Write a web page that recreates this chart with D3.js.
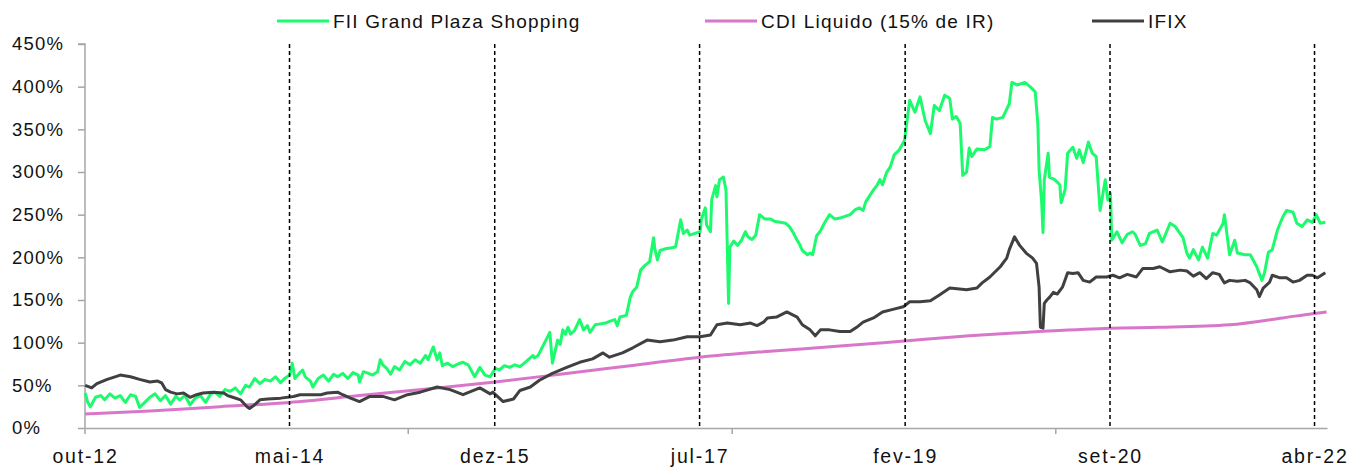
<!DOCTYPE html>
<html>
<head>
<meta charset="utf-8">
<script src="https://cdn.jsdelivr.net/npm/d3@7"></script>
<style>
  body { margin: 0; background: #fff; }
  svg { display: block; font-family: "Liberation Sans", Arial, sans-serif; }
</style>
</head>
<body>
<svg id="chart" width="1352" height="467"></svg>
<script>
// series names, as in the legend
var seriesNames = ["FII Grand Plaza Shopping", "CDI Liquido (15% de IR)", "IFIX"];

// dates are decimal years, values are accumulated return in %
var fiiData = [
  [2012.75,41],[2012.77,30],[2012.79,25],[2012.83,36],[2012.87,38],[2012.90,33],[2012.94,40],[2012.98,35],
  [2013.02,38],[2013.06,30],[2013.10,39],[2013.14,37],[2013.17,24],[2013.21,30],[2013.25,36],[2013.29,40],
  [2013.33,32],[2013.37,38],[2013.41,28],[2013.45,37],[2013.48,33],[2013.52,38],[2013.56,27],[2013.60,35],
  [2013.64,38],[2013.68,30],[2013.72,40],[2013.75,42],[2013.79,37],[2013.83,45],[2013.87,43],[2013.91,47],
  [2013.95,40],[2013.99,50],[2014.02,48],[2014.06,58],[2014.10,52],[2014.14,57],[2014.18,55],[2014.22,60],
  [2014.26,53],[2014.29,58],[2014.33,62],[2014.35,76],[2014.37,58],[2014.41,65],[2014.43,68],[2014.45,60],
  [2014.49,55],[2014.51,48],[2014.55,58],[2014.59,62],[2014.63,55],[2014.67,63],[2014.70,60],[2014.74,64],
  [2014.78,58],[2014.82,65],[2014.86,62],[2014.87,54],[2014.90,66],[2014.94,64],[2014.97,62],[2015.01,66],
  [2015.03,80],[2015.05,74],[2015.08,70],[2015.11,63],[2015.14,72],[2015.18,68],[2015.22,78],[2015.26,74],
  [2015.30,80],[2015.34,76],[2015.38,85],[2015.40,80],[2015.44,95],[2015.47,80],[2015.49,88],[2015.51,73],
  [2015.55,76],[2015.59,72],[2015.63,75],[2015.67,77],[2015.71,74],[2015.76,60],[2015.80,71],[2015.84,62],
  [2015.88,60],[2015.92,70],[2015.95,68],[2015.99,73],[2016.03,71],[2016.07,74],[2016.11,72],[2016.15,77],
  [2016.21,85],[2016.22,82],[2016.25,85],[2016.34,112],[2016.36,76],[2016.40,103],[2016.42,98],[2016.44,115],
  [2016.46,110],[2016.48,118],[2016.50,110],[2016.53,114],[2016.57,127],[2016.60,115],[2016.63,120],[2016.65,112],
  [2016.69,121],[2016.73,122],[2016.77,123],[2016.80,125],[2016.84,127],[2016.86,120],[2016.88,130],[2016.93,132],
  [2016.96,153],[2016.98,160],[2017.01,165],[2017.04,185],[2017.07,190],[2017.11,195],[2017.14,223],[2017.15,210],
  [2017.17,197],[2017.19,208],[2017.23,210],[2017.27,211],[2017.31,212],[2017.35,244],[2017.37,228],[2017.40,232],
  [2017.42,226],[2017.46,228],[2017.50,230],[2017.51,245],[2017.54,258],[2017.55,238],[2017.58,230],[2017.59,268],
  [2017.62,284],[2017.63,271],[2017.65,291],[2017.68,294],[2017.70,279],[2017.72,146],[2017.73,212],[2017.76,219],
  [2017.79,214],[2017.82,220],[2017.85,230],[2017.87,224],[2017.90,221],[2017.93,226],[2017.96,250],[2018.00,245],
  [2018.04,245],[2018.08,242],[2018.12,241],[2018.16,240],[2018.19,236],[2018.22,229],[2018.25,220],[2018.27,215],
  [2018.29,208],[2018.33,203],[2018.35,205],[2018.37,203],[2018.40,225],[2018.43,231],[2018.46,240],[2018.50,250],
  [2018.54,245],[2018.58,246],[2018.62,248],[2018.66,250],[2018.70,256],[2018.73,258],[2018.76,255],[2018.78,265],
  [2018.81,272],[2018.84,279],[2018.87,285],[2018.89,291],[2018.91,285],[2018.94,299],[2018.97,306],[2019.00,320],
  [2019.04,326],[2019.08,337],[2019.12,384],[2019.16,370],[2019.20,388],[2019.24,360],[2019.28,345],[2019.31,378],
  [2019.35,372],[2019.39,390],[2019.43,386],[2019.45,362],[2019.48,365],[2019.51,357],[2019.53,296],[2019.56,300],
  [2019.58,328],[2019.60,318],[2019.64,327],[2019.70,326],[2019.74,330],[2019.76,364],[2019.79,362],[2019.84,364],
  [2019.89,380],[2019.91,405],[2019.95,402],[2020.01,405],[2020.05,400],[2020.09,394],[2020.11,357],[2020.12,302],
  [2020.14,264],[2020.15,229],[2020.16,291],[2020.19,322],[2020.20,294],[2020.24,291],[2020.28,285],[2020.29,264],
  [2020.32,279],[2020.34,322],[2020.38,329],[2020.41,316],[2020.43,326],[2020.46,311],[2020.50,335],[2020.53,322],
  [2020.56,318],[2020.59,255],[2020.63,291],[2020.65,267],[2020.67,275],[2020.68,220],[2020.72,230],[2020.76,217],
  [2020.80,227],[2020.84,230],[2020.86,227],[2020.90,214],[2020.94,216],[2020.97,228],[2021.03,232],[2021.07,218],
  [2021.13,240],[2021.17,236],[2021.23,223],[2021.26,205],[2021.28,199],[2021.31,209],[2021.35,197],[2021.38,212],
  [2021.42,199],[2021.46,228],[2021.49,226],[2021.54,240],[2021.55,250],[2021.59,203],[2021.63,220],[2021.65,205],
  [2021.71,203],[2021.75,203],[2021.80,189],[2021.84,173],[2021.86,182],[2021.89,206],[2021.92,209],[2021.96,232],
  [2022.00,247],[2022.03,255],[2022.08,253],[2022.11,240],[2022.15,236],[2022.19,244],[2022.23,241],[2022.26,250],
  [2022.29,240],[2022.33,241]
];

var cdiData = [
  [2012.75,16.5],[2013.25,20],[2013.79,25],[2014.33,30],[2014.87,38],[2015.41,46],[2015.92,54],[2016.42,63],
  [2016.96,73],[2017.50,83],[2018.04,90],[2018.58,96],[2019.08,102],[2019.58,108],[2020.12,113],[2020.67,117],
  [2021.05,118],[2021.59,121],[2022.00,129],[2022.23,134],[2022.34,136]
];

var ifixData = [
  [2012.75,50],[2012.80,47],[2012.84,52],[2012.92,57],[2012.98,60],[2013.02,62],[2013.10,60],[2013.17,57],
  [2013.25,54],[2013.31,55],[2013.34,53],[2013.37,45],[2013.41,42],[2013.46,40],[2013.51,41],[2013.56,36],
  [2013.61,39],[2013.66,41],[2013.74,42],[2013.82,41],[2013.85,38],[2013.89,36],[2013.95,33],[2014.00,25],
  [2014.02,23],[2014.05,26],[2014.10,33],[2014.16,34],[2014.26,35],[2014.36,37],[2014.41,39],[2014.57,39],
  [2014.62,41],[2014.70,42],[2014.74,39],[2014.80,35],[2014.87,31],[2014.95,37],[2015.05,37],[2015.14,33],
  [2015.24,39],[2015.34,42],[2015.47,48],[2015.57,45],[2015.67,39],[2015.80,47],[2015.88,40],[2015.90,42],
  [2015.98,31],[2016.06,34],[2016.11,44],[2016.19,48],[2016.26,56],[2016.36,64],[2016.47,71],[2016.57,77],
  [2016.67,81],[2016.75,88],[2016.80,83],[2016.90,88],[2016.98,94],[2017.09,103],[2017.19,101],[2017.29,103],
  [2017.40,107],[2017.50,107],[2017.58,109],[2017.63,121],[2017.71,123],[2017.81,121],[2017.89,123],[2017.94,120],
  [2017.99,124],[2018.02,129],[2018.09,130],[2018.17,136],[2018.25,130],[2018.29,121],[2018.35,115],[2018.39,108],
  [2018.43,115],[2018.50,115],[2018.58,113],[2018.66,113],[2018.71,118],[2018.76,124],[2018.84,129],[2018.91,136],
  [2018.99,139],[2019.07,142],[2019.12,148],[2019.20,148],[2019.28,149],[2019.35,156],[2019.43,164],[2019.56,162],
  [2019.64,164],[2019.68,170],[2019.74,177],[2019.82,189],[2019.87,199],[2019.89,209],[2019.93,224],[2019.97,214],
  [2020.02,205],[2020.07,199],[2020.10,193],[2020.12,165],[2020.13,118],[2020.15,117],[2020.16,146],[2020.18,150],
  [2020.20,153],[2020.23,159],[2020.26,157],[2020.30,165],[2020.34,182],[2020.38,181],[2020.42,182],[2020.46,173],
  [2020.51,171],[2020.56,177],[2020.64,177],[2020.69,179],[2020.74,176],[2020.80,180],[2020.87,177],[2020.92,187],
  [2021.00,187],[2021.05,189],[2021.13,183],[2021.21,185],[2021.26,184],[2021.31,178],[2021.36,182],[2021.41,175],
  [2021.46,182],[2021.51,180],[2021.55,170],[2021.59,173],[2021.65,172],[2021.71,173],[2021.75,170],[2021.80,162],
  [2021.82,154],[2021.85,164],[2021.90,171],[2021.92,179],[2021.98,176],[2022.03,176],[2022.08,171],[2022.13,173],
  [2022.19,179],[2022.23,179],[2022.27,176],[2022.33,182]
];

// x labels (also where the dashed markers sit) and the minor ticks
var xLabelDates = ["2012-10-01", "2014-05-01", "2015-12-01", "2017-07-01", "2019-02-01", "2020-09-01", "2022-04-01"];
var xMinorTickDates = ["2015-04-01", "2017-10-01", "2020-04-01"];
var monthNames = ["jan", "fev", "mar", "abr", "mai", "jun", "jul", "ago", "set", "out", "nov", "dez"];
var yTicks = [0, 50, 100, 150, 200, 250, 300, 350, 400, 450];

var colors = ["#1bfb6d", "#d877c9", "#404040"];

function fromDecimalYear(t) {
  var y = Math.floor(t);
  var a = new Date(y, 0, 1), b = new Date(y + 1, 0, 1);
  return new Date(+a + (t - y) * (b - a));
}

var width = 1352, height = 467;
var margin = { top: 44, right: 25, bottom: 39, left: 85 };

var svg = d3.select("#chart");
svg.append("rect").attr("width", width).attr("height", height).attr("fill", "#fff");

var x = d3.scaleTime()
  .domain([new Date(2012, 9, 1), fromDecimalYear(2022.343)])
  .range([margin.left, width - margin.right]);

var y = d3.scaleLinear()
  .domain([0, 450])
  .range([height - margin.bottom, margin.top]);

var parse = d3.timeParse("%Y-%m-%d");

// y axis
var yAxis = svg.append("g")
  .attr("transform", "translate(" + margin.left + ",0)")
  .call(d3.axisLeft(y).tickValues(yTicks).tickSize(7).tickPadding(21).tickFormat(function (d) { return d + "%"; }));
yAxis.select(".domain").attr("stroke", "#a6a6a6").attr("stroke-width", 1.5).attr("d",
  "M-7," + y(450) + "H0V" + y(0));
yAxis.selectAll(".tick line").attr("stroke", "#a6a6a6").attr("stroke-width", 1.5);
yAxis.selectAll("text")
  .attr("font-size", 18.5)
  .attr("letter-spacing", 1.2)
  .attr("text-anchor", "start")
  .attr("x", -73)
  .attr("fill", "#111");

// x axis
var xAxis = svg.append("g")
  .attr("transform", "translate(0," + y(0) + ")")
  .call(d3.axisBottom(x).tickValues(xLabelDates.map(parse)).tickSize(0).tickPadding(21)
    .tickFormat(function (d) { return monthNames[d.getMonth()] + "-" + d3.timeFormat("%y")(d); }));
xAxis.select(".domain").attr("stroke", "#a6a6a6").attr("stroke-width", 1.5);
xAxis.selectAll("text")
  .attr("font-size", 19.5)
  .attr("letter-spacing", 1.8)
  .attr("fill", "#111");

svg.append("g")
  .selectAll("line")
  .data([new Date(2012, 9, 1)].concat(xMinorTickDates.map(parse)))
  .join("line")
  .attr("x1", function (d) { return x(d); })
  .attr("x2", function (d) { return x(d); })
  .attr("y1", y(0))
  .attr("y2", y(0) + 6)
  .attr("stroke", "#a6a6a6")
  .attr("stroke-width", 1.5);

// series
var line = d3.line()
  .x(function (d) { return x(fromDecimalYear(d[0])); })
  .y(function (d) { return y(d[1]); });

var allSeries = [fiiData, cdiData, ifixData];
allSeries.forEach(function (data, i) {
  svg.append("path")
    .datum(data)
    .attr("fill", "none")
    .attr("stroke", colors[i])
    .attr("stroke-width", 3)
    .attr("stroke-linejoin", "round")
    .attr("d", i === 1 ? line.curve(d3.curveMonotoneX)(data) : line.curve(d3.curveLinear)(data));
});

// dashed markers
svg.append("g")
  .selectAll("line")
  .data(xLabelDates.slice(1).map(parse))
  .join("line")
  .attr("x1", function (d) { return x(d); })
  .attr("x2", function (d) { return x(d); })
  .attr("y1", y(450))
  .attr("y2", y(0))
  .attr("stroke", "#000")
  .attr("stroke-width", 1.5)
  .attr("stroke-dasharray", "4,3");

// legend
var legendX = [277, 705, 1092];
var legend = svg.append("g")
  .selectAll("g")
  .data(seriesNames)
  .join("g")
  .attr("transform", function (d, i) { return "translate(" + legendX[i] + ",21)"; });
legend.append("line")
  .attr("x1", 0).attr("x2", 52)
  .attr("stroke", function (d, i) { return colors[i]; })
  .attr("stroke-width", 3);
legend.append("text")
  .attr("x", 56)
  .attr("dy", "0.35em")
  .attr("font-size", 19)
  .attr("letter-spacing", 1.2)
  .attr("fill", "#111")
  .text(function (d) { return d; });
</script>
</body>
</html>
